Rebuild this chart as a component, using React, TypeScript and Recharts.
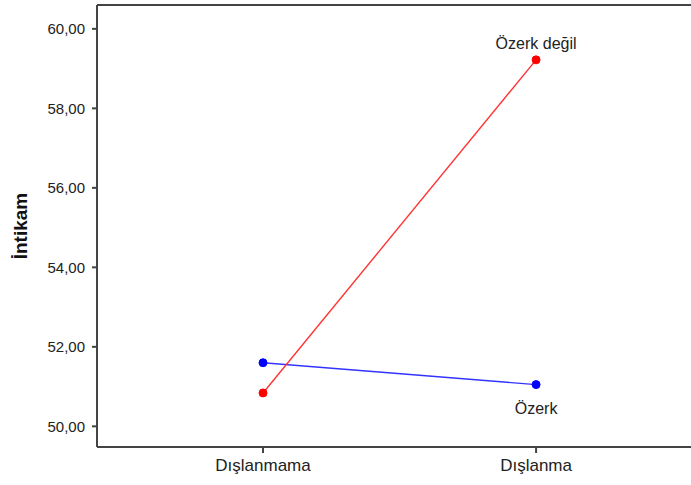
import { LineChart, Line, XAxis, YAxis, ReferenceLine, Label } from "recharts";

const categories = ["Dışlanmama", "Dışlanma"];
const ozerk = [51.6, 51.05];
const ozerkDegil = [50.84, 59.22];
const yTicks = [50, 52, 54, 56, 58, 60];

const data = categories.map((c, i) => ({ x: i, name: c, ozerk: ozerk[i], ozerkDegil: ozerkDegil[i] }));

const FONT = "'Liberation Sans', Arial, sans-serif";
const AXIS = "#444";

const endLabel =
  (text: string, dy: number) =>
  (props: any) => {
    if (props.index !== data.length - 1) return null;
    return (
      <text x={props.x} y={props.y + dy} textAnchor="middle" fontFamily={FONT} fontSize={16} fill="#222">
        {text}
      </text>
    );
  };

export default function App() {
  return (
    <div
      style={{
        position: "absolute",
        left: 0,
        top: 0,
        width: 691,
        height: 485,
        overflow: "hidden",
        background: "#fff",
      }}
    >
      {/* a bit wider than the window so the plot has no right border */}
      <LineChart width={695} height={485} data={data} margin={{ top: 5, right: 0, bottom: 0, left: 0 }}>
        <XAxis
          dataKey="x"
          type="number"
          domain={[-0.608, 1.582]}
          ticks={[0, 1]}
          tickFormatter={(v: number) => categories[v]}
          height={38}
          stroke={AXIS}
          strokeWidth={2}
          tickSize={6}
          tickMargin={6}
          tick={{ fontFamily: FONT, fontSize: 17, fill: "#222" }}
        />
        <YAxis
          type="number"
          domain={[49.48, 60.6]}
          ticks={yTicks}
          allowDataOverflow
          width={97}
          stroke={AXIS}
          strokeWidth={2}
          tickSize={5}
          tickMargin={7}
          tickFormatter={(v: number) => v.toFixed(2).replace(".", ",")}
          tick={{ fontFamily: FONT, fontSize: 15, fill: "#222" }}
        >
          <Label
            value="İntikam"
            angle={-90}
            position="insideLeft"
            offset={20}
            style={{ fontFamily: FONT, fontSize: 19, fontWeight: "bold", fill: "#111", textAnchor: "middle" }}
          />
        </YAxis>
        <ReferenceLine y={60.6} stroke={AXIS} strokeWidth={2} />
        <Line
          dataKey="ozerk"
          stroke="#3333ff"
          strokeWidth={1.4}
          dot={{ r: 4, fill: "#0000ff", stroke: "#0000ff", strokeWidth: 1 }}
          label={endLabel("Özerk", 29)}
          isAnimationActive={false}
        />
        <Line
          dataKey="ozerkDegil"
          stroke="#ff3333"
          strokeWidth={1.4}
          dot={{ r: 4, fill: "#ff0000", stroke: "#ff0000", strokeWidth: 1 }}
          label={endLabel("Özerk değil", -11)}
          isAnimationActive={false}
        />
      </LineChart>
    </div>
  );
}
